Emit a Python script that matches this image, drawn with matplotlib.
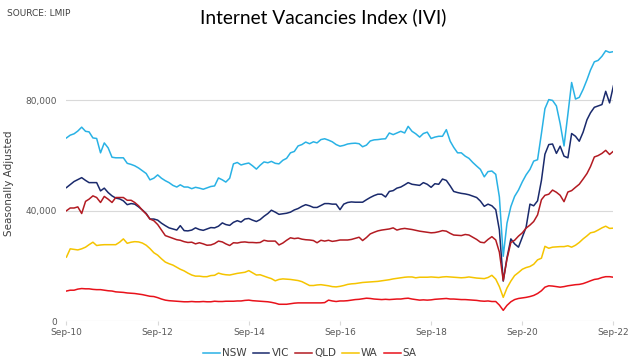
import pandas as pd
import matplotlib.pyplot as plt
import matplotlib.dates as mdates
from matplotlib.ticker import FuncFormatter

# monthly index values (thousands), Sep-2010 .. Sep-2022
nsw = [66.4, 67.4, 67.9, 68.9, 70.3, 68.8, 68.6, 66.4, 66.2, 61.0,
       64.6, 62.8, 59.4, 59.2, 59.2, 59.2, 57.2, 56.8, 56.3, 55.5,
       54.5, 53.5, 51.2, 51.8, 53.0, 51.8, 50.9, 50.2, 49.2, 48.6,
       49.4, 48.6, 48.6, 48.0, 48.5, 48.2, 47.8, 48.3, 48.8, 49.0,
       51.9, 51.2, 50.4, 51.8, 57.0, 57.5, 56.6, 57.0, 57.3, 56.3,
       55.1, 56.5, 57.7, 57.4, 57.9, 57.2, 57.0, 58.3, 59.0, 61.0,
       61.5, 63.5, 64.0, 64.9, 64.3, 65.0, 64.6, 65.8, 66.1, 65.6,
       65.0, 64.0, 63.4, 63.7, 64.2, 64.4, 64.5, 64.3, 63.2, 63.8,
       65.3, 65.7, 65.8, 66.0, 66.1, 68.2, 67.6, 68.2, 68.8, 68.2,
       70.6, 68.8, 67.9, 66.7, 68.0, 68.5, 66.2, 66.7, 67.0, 67.0,
       69.4, 65.2, 63.0, 61.0, 61.0, 59.8, 59.0, 57.5, 56.2, 55.0,
       52.3, 54.2, 54.4, 53.2, 45.0, 23.5, 35.5, 41.5, 45.2, 47.5,
       50.5, 53.0, 55.0, 58.0, 58.5, 68.0, 77.0, 80.3, 80.0, 78.0,
       71.6, 63.5, 75.0, 86.5, 80.5, 81.1, 84.0, 87.5, 91.0, 94.0,
       94.5, 96.0, 98.0, 97.4, 97.7]
vic = [48.4, 49.5, 50.6, 51.3, 52.0, 51.0, 50.2, 50.2, 50.2, 47.2,
       48.2, 46.6, 45.4, 44.6, 44.3, 43.6, 42.2, 42.6, 42.4, 41.4,
       40.3, 39.0, 37.0, 37.0, 36.6, 35.5, 34.6, 33.8, 33.4, 33.0,
       34.6, 32.8, 32.7, 33.0, 33.8, 33.2, 32.9, 33.4, 33.9, 33.8,
       34.4, 35.6, 35.0, 34.7, 35.8, 36.4, 35.9, 37.0, 37.2, 36.6,
       36.1, 36.8, 38.0, 39.0, 40.2, 39.5, 38.7, 38.9, 39.1, 39.5,
       40.3, 40.8, 41.6, 42.2, 41.8, 41.2, 41.2, 41.9, 42.6, 42.6,
       42.4, 42.4, 40.4, 42.4, 43.0, 43.2, 43.1, 43.1, 43.1, 44.0,
       44.8, 45.5, 46.0, 46.0, 45.0, 47.0, 47.3, 48.2, 48.6, 49.4,
       50.2, 49.6, 49.4, 49.2, 50.2, 49.6, 48.5, 49.8, 49.6, 51.5,
       51.0, 49.0, 47.0, 46.6, 46.3, 46.1, 45.8, 45.3, 44.8, 43.5,
       41.6, 42.4, 41.8, 40.4, 33.0, 14.5, 23.0, 29.8, 28.0, 26.8,
       30.5, 34.0, 42.4, 41.8, 43.6, 51.0, 60.5, 64.0, 64.2, 60.8,
       63.4, 59.8, 59.2, 68.0, 67.0, 65.2, 68.5, 73.0, 75.5, 77.5,
       78.0, 78.5, 83.3, 79.1, 85.3]
qld = [40.0, 41.0, 41.0, 41.4, 39.0, 43.4, 44.2, 45.4, 44.8, 43.0,
       45.2, 44.2, 43.0, 44.8, 44.8, 44.8, 43.8, 43.8, 43.0, 41.8,
       40.2, 38.8, 37.0, 36.4, 35.0, 33.0, 31.0, 30.5, 30.0, 29.5,
       29.3, 28.8, 28.5, 28.6, 28.0, 28.4, 28.0, 27.5, 27.6, 28.1,
       29.0, 28.7, 28.0, 27.4, 28.4, 28.3, 28.6, 28.7, 28.5, 28.5,
       28.4, 28.5, 29.3, 29.0, 29.0, 29.0, 27.6, 28.3, 29.3, 30.2,
       29.9, 30.1, 29.7, 29.5, 29.4, 29.2, 28.4, 29.3, 29.0, 29.3,
       28.9, 29.1, 29.4, 29.4, 29.4, 29.6, 30.0, 30.4, 29.2, 30.3,
       31.6, 32.2, 32.7, 33.0, 33.2, 33.4, 33.8, 33.0, 33.4, 33.6,
       33.4, 33.2, 32.9, 32.6, 32.4, 32.2, 32.0, 32.1, 32.4, 32.8,
       32.6, 31.8, 31.2, 31.1, 31.0, 31.4, 31.2, 30.4, 29.6, 28.6,
       28.4, 29.6, 30.6, 29.4, 25.0, 14.7, 22.5, 28.5, 29.3, 30.8,
       32.0, 33.7, 34.8, 36.1, 38.5, 44.0, 45.6, 46.0, 47.5, 46.7,
       45.6, 43.3, 46.8, 47.3, 48.5, 49.6, 51.5, 53.5, 56.0, 59.5,
       60.0, 60.8, 61.9, 60.4, 61.6]
wa = [23.2, 26.2, 26.0, 25.8, 26.2, 26.8, 27.7, 28.6, 27.4, 27.6,
      27.7, 27.7, 27.7, 27.7, 28.6, 29.8, 28.2, 28.6, 28.8, 28.7,
      28.3, 27.5, 26.3, 24.8, 23.9, 22.6, 21.4, 20.8, 20.3, 19.5,
      18.8, 18.2, 17.4, 16.7, 16.3, 16.3, 16.1, 16.1, 16.5, 16.6,
      17.4, 17.0, 16.8, 16.7, 17.0, 17.3, 17.5, 17.7, 18.3, 17.5,
      16.7, 16.8, 16.3, 15.8, 15.4, 14.6, 15.1, 15.3, 15.2, 15.1,
      14.9, 14.7, 14.3, 13.6, 12.9, 12.9, 13.1, 13.2, 13.0, 12.8,
      12.5, 12.4, 12.6, 12.9, 13.3, 13.5, 13.6, 13.8, 14.0, 14.1,
      14.2, 14.3, 14.4, 14.6, 14.8, 15.0, 15.3, 15.5, 15.7, 15.9,
      16.0, 16.0, 15.7, 15.9, 15.9, 15.9, 16.0, 15.9, 15.8, 16.0,
      16.1, 16.0, 15.9, 15.8, 15.7, 15.8, 16.0, 15.8, 15.6, 15.5,
      15.4, 15.8, 16.6, 15.2, 12.5, 8.6, 12.0, 14.5, 16.5, 17.6,
      18.8, 19.4, 19.8, 20.6, 22.2, 22.8, 27.1, 26.4, 26.8, 26.9,
      27.0, 27.0, 27.3, 26.8, 27.5, 28.5, 29.8, 30.9, 32.0, 32.3,
      33.0, 33.8, 34.4, 33.6, 33.7]
sa = [10.9, 11.2, 11.2, 11.6, 11.8, 11.7, 11.7, 11.5, 11.4, 11.4,
      11.2, 11.0, 10.9, 10.6, 10.5, 10.4, 10.2, 10.1, 10.0, 9.8,
      9.6, 9.3, 9.0, 8.9, 8.5, 8.0, 7.6, 7.4, 7.3, 7.2,
      7.1, 7.0, 7.0, 7.1, 7.0, 7.0, 7.1, 7.0, 7.0, 7.2,
      7.1, 7.1, 7.2, 7.2, 7.2, 7.3, 7.3, 7.5, 7.6, 7.4,
      7.3, 7.2, 7.1, 7.0, 6.8, 6.5, 6.1, 6.1, 6.1, 6.3,
      6.5, 6.6, 6.6, 6.6, 6.6, 6.6, 6.6, 6.6, 6.7, 7.6,
      7.3, 7.1, 7.3, 7.3, 7.4, 7.6, 7.8, 7.9, 8.1, 8.3,
      8.2, 8.0, 7.9, 7.8, 7.9, 7.8, 7.9, 8.0, 8.0, 8.2,
      8.3, 8.0, 7.8, 7.6, 7.7, 7.6, 7.7, 7.9, 8.0, 8.1,
      8.2, 8.0, 8.0, 7.9, 7.8, 7.8, 7.7, 7.6, 7.5, 7.3,
      7.2, 7.3, 7.1, 7.1, 5.8, 3.9, 5.7, 7.0, 7.8, 8.2,
      8.4, 8.6, 8.9, 9.3, 10.0, 11.0, 12.3, 12.8, 12.7, 12.5,
      12.3, 12.5, 12.8, 13.0, 13.2, 13.3, 13.6, 14.1, 14.6, 15.1,
      15.3, 15.8, 16.1, 16.1, 15.9]

states = ["NSW", "VIC", "QLD", "WA", "SA"]
colors = ["#29B2E5", "#1A2A6C", "#B31B22", "#F5C400", "#E8121B"]
dates = pd.date_range("2010-09-01", periods=len(nsw), freq="MS")

fig = plt.figure(figsize=(6.39, 3.62), dpi=100)
ax = fig.add_axes([0.104, 0.113, 0.856, 0.762])

for name, vals, c in zip(states, [nsw, vic, qld, wa, sa], colors):
    ax.plot(dates, [v * 1000 for v in vals], color=c, lw=1.1, label=name)

ax.set_ylim(0, 100000)
ax.set_xlim(dates[0], dates[-1])
ax.set_yticks([0, 40000, 80000])
ax.yaxis.set_major_formatter(FuncFormatter(lambda v, p: f"{int(v):,}"))
ax.grid(axis="y", color="#d9d9d9", lw=0.8)
ax.set_axisbelow(True)

xt = pd.date_range("2010-09-01", "2022-09-01", freq="24MS")
ax.set_xticks(xt)
ax.xaxis.set_major_formatter(mdates.DateFormatter("%b-%y"))

for s in ax.spines.values():
    s.set_visible(False)
ax.tick_params(axis="y", length=0, labelsize=6.5, colors="#595959", pad=7)
ax.tick_params(axis="x", length=3, color="#d9d9d9", labelsize=6.5,
               labelcolor="#595959", pad=2)

ax.set_ylabel("Seasonally Adjusted", fontsize=7.5, color="#404040", labelpad=8)
fig.text(0.505, 0.952, "Internet Vacancies Index (IVI)", fontsize=13.8,
         family="Lato", color="#000000", ha="center", va="center")
fig.text(0.011, 0.963, "SOURCE: LMIP", fontsize=6.5, color="#404040", va="center")

ax.legend(loc="upper center", bbox_to_anchor=(0.445, -0.065), ncol=5, frameon=False,
          fontsize=7.5, handlelength=1.6, handletextpad=0.2, columnspacing=0.6,
          labelcolor="#404040")

plt.savefig("out.png")
